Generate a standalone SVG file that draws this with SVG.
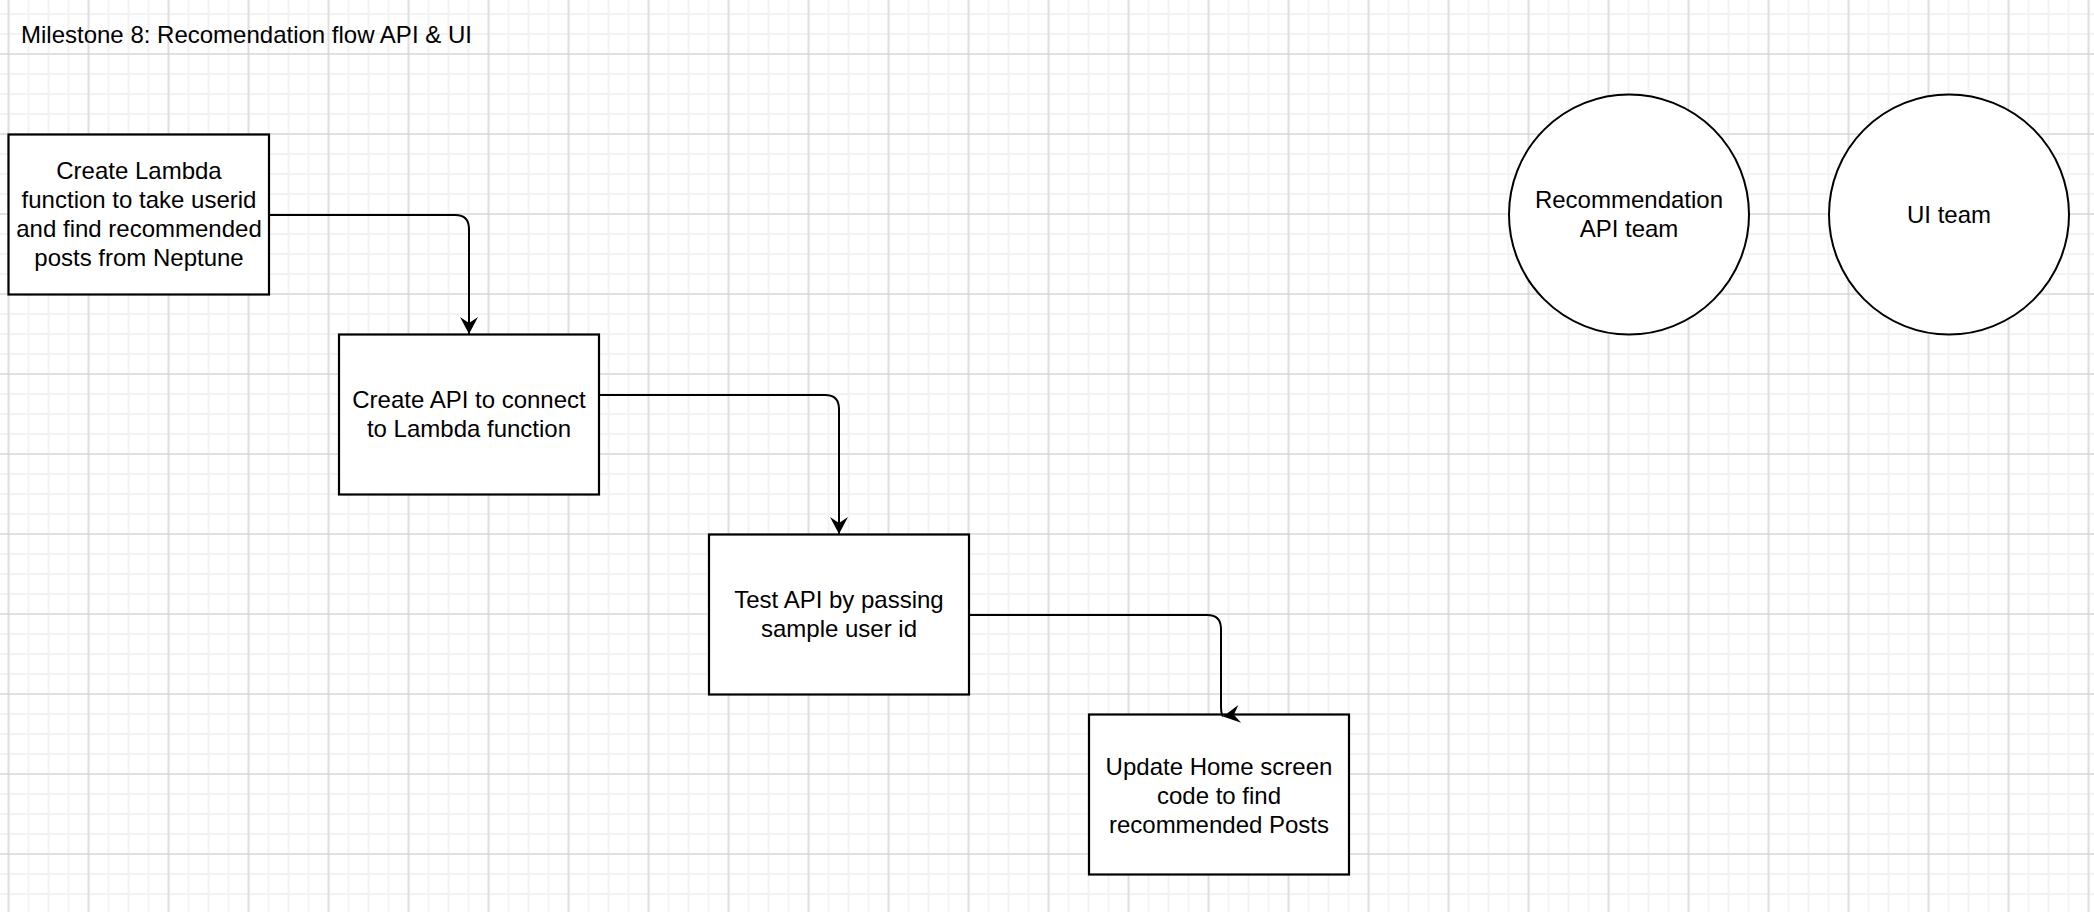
<svg xmlns="http://www.w3.org/2000/svg" width="2094" height="912" viewBox="0 0 2094 912">
  <style>
    .box { fill: #ffffff; stroke: #000000; stroke-width: 2.2; }
    .circ { fill: #ffffff; stroke: #000000; stroke-width: 2; }
    .lbl { font-family: "Liberation Sans", Arial, Helvetica, sans-serif; font-size: 24px; fill: #000000; text-anchor: middle; }
    .title { font-family: "Liberation Sans", Arial, Helvetica, sans-serif; font-size: 24px; fill: #000000; }
    .edge { fill: none; stroke: #000000; stroke-width: 2; }
    .minor { stroke: #f3f3f3; stroke-width: 2; }
    .major { stroke: #d0d0d0; stroke-width: 1.2; }
  </style>
  <defs>
    <pattern id="grid" patternUnits="userSpaceOnUse" x="-1.5" y="44" width="80" height="80">
      <path class="minor" d="M10,0 V80 M30,0 V80 M50,0 V80 M70,0 V80 M0,10 H80 M0,30 H80 M0,50 H80 M0,70 H80"/>
      <path class="major" d="M10,0 V80 M0,10 H80"/>
    </pattern>
    <marker id="arrow" markerUnits="userSpaceOnUse" viewBox="-20 -10 22 20" refX="0" refY="0" markerWidth="22" markerHeight="20" orient="auto">
      <path d="M0,0 L-17,-9 L-11,0 L-17,9 Z" fill="#000000"/>
    </marker>
    <marker id="arrowSkew" markerUnits="userSpaceOnUse" viewBox="-20 -10 22 20" refX="0" refY="0" markerWidth="22" markerHeight="20" orient="171">
      <path d="M0,0 L-17,-9 L-11,0 L-17,9 Z" fill="#000000"/>
    </marker>
  </defs>

  <rect x="0" y="0" width="2094" height="912" fill="#ffffff"/>
  <rect x="0" y="0" width="2094" height="912" fill="url(#grid)"/>

  <text class="title" x="21" y="43">Milestone 8: Recomendation flow API &amp; UI</text>

  <g id="node-lambda">
    <rect class="box" x="8.5" y="134.5" width="260.5" height="160"/>
    <text class="lbl" x="139" y="179">Create Lambda</text>
    <text class="lbl" x="139" y="208">function to take userid</text>
    <text class="lbl" x="139" y="237">and find recommended</text>
    <text class="lbl" x="139" y="266">posts from Neptune</text>
  </g>

  <g id="node-api">
    <rect class="box" x="339" y="334.5" width="260" height="160"/>
    <text class="lbl" x="469" y="408">Create API to connect</text>
    <text class="lbl" x="469" y="437">to Lambda function</text>
  </g>

  <g id="node-test">
    <rect class="box" x="709" y="534.5" width="260" height="160"/>
    <text class="lbl" x="839" y="608">Test API by passing</text>
    <text class="lbl" x="839" y="637">sample user id</text>
  </g>

  <g id="node-update">
    <rect class="box" x="1089" y="714.5" width="260" height="160"/>
    <text class="lbl" x="1219" y="774.5">Update Home screen</text>
    <text class="lbl" x="1219" y="803.5">code to find</text>
    <text class="lbl" x="1219" y="832.5">recommended Posts</text>
  </g>

  <g id="node-rec-team">
    <circle class="circ" cx="1629" cy="214.5" r="120"/>
    <text class="lbl" x="1629" y="208">Recommendation</text>
    <text class="lbl" x="1629" y="237">API team</text>
  </g>

  <g id="node-ui-team">
    <circle class="circ" cx="1949" cy="214.5" r="120"/>
    <text class="lbl" x="1949" y="223">UI team</text>
  </g>

  <g id="connectors">
    <path class="edge" d="M269,215 H455 Q469,215 469,229 V334" marker-end="url(#arrow)"/>
    <path class="edge" d="M599,395 H825 Q839,395 839,409 V534" marker-end="url(#arrow)"/>
    <path class="edge" d="M969,615 H1207 Q1221,615 1221,629 V706 Q1221,714 1223,716.5" marker-end="url(#arrowSkew)"/>
  </g>
</svg>
